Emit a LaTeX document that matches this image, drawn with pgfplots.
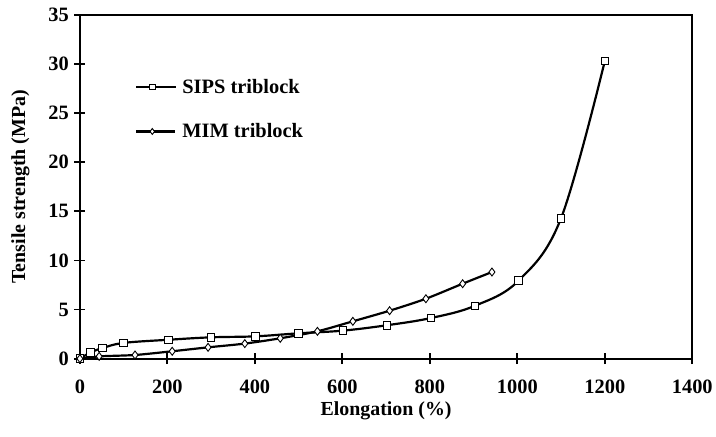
\documentclass[border=0pt]{standalone}
\usepackage{pgfplots}
\pgfplotsset{compat=1.18}
\usepackage{fontspec}
\setmainfont{Liberation Serif}
\begin{document}
\begin{tikzpicture}
\begin{axis}[
  scale only axis,
  width=613bp, height=344bp,
  xmin=0, xmax=1400, ymin=0, ymax=35,
  xtick={0,200,...,1400}, ytick={0,5,...,35},
  xtick pos=left, ytick pos=left,
  tick align=center,
  major tick length=11bp,
  axis line style={line width=2pt},
  every tick/.style={line width=1.8pt, black},
  /pgf/number format/assume math mode=true,
  /pgf/number format/1000 sep={},
  tick label style={font=\fontsize{20.5}{22}\selectfont\bfseries},
  label style={font=\fontsize{20}{22}\selectfont\bfseries},
  xticklabel style={yshift=-12bp},
  yticklabel style={xshift=-2bp},
  xlabel={Elongation (\%)},
  ylabel={Tensile strength (MPa)},
  xlabel style={at={(axis description cs:0.5,0)}, anchor=north, yshift=-40bp},
  ylabel style={at={(axis description cs:0,0.5)}, anchor=south, yshift=47bp},
  clip=false,
  legend style={at={(rel axis cs:0.09,0.82)}, anchor=north west, draw=none, fill=none,
    font=\fontsize{20.5}{22}\selectfont\bfseries, row sep=25bp, inner sep=0pt,
    nodes={inner sep=2bp}, /tikz/every odd column/.append style={column sep=4bp}},
  legend cell align=left,
  legend image code/.code={\draw[#1, every mark/.append style={scale=0.75}, mark repeat=2, mark phase=2] plot coordinates {(0bp,0bp)(16bp,0bp)(39bp,0bp)};},
]
\path (rel axis cs:-0.1305,1.0436) -- (rel axis cs:1.0375,-0.2267);
\addplot[black, line width=2.2pt, smooth, tension=0.6, mark=square*, mark size=3.8pt,
  mark options={fill=white, line width=0.9pt, solid}]
  coordinates {(0,0)(24,0.62)(52,1.08)(100,1.6)(202,1.92)(300,2.17)(401,2.27)(500,2.58)(601,2.85)(702,3.4)(803,4.14)(903,5.38)(1003,7.95)(1100,14.3)(1200,30.3)};
\addlegendentry{SIPS triblock}
\addplot[black, line width=2.2pt, smooth, tension=0.45, mark=diamond*, mark size=4pt,
  mark options={fill=white, line width=0.9pt, solid}]
  coordinates {(0,0)(44,0.23)(126,0.37)(211,0.75)(293,1.15)(377,1.53)(458,2.07)(543,2.78)(624,3.8)(708,4.88)(791,6.1)(875,7.63)(942,8.82)};
\addlegendentry{MIM triblock}
\end{axis}
\end{tikzpicture}
\end{document}
